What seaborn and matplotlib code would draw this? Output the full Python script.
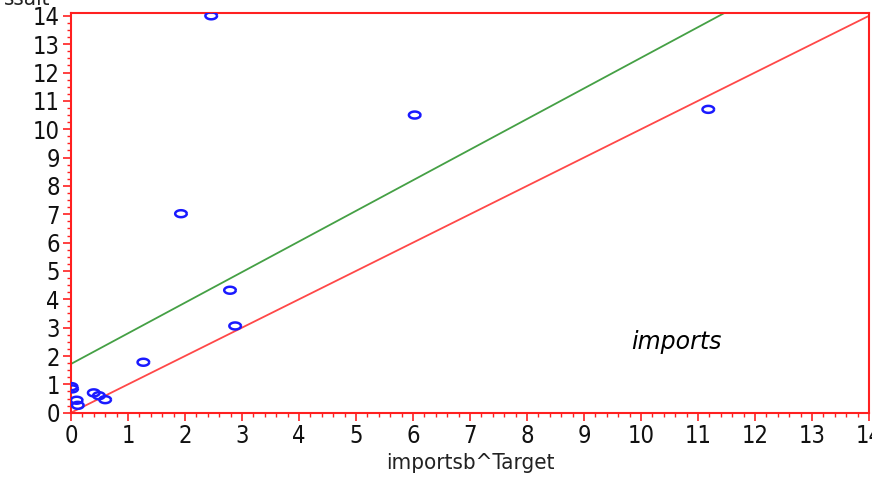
import numpy as np
import pandas as pd
import matplotlib
matplotlib.use("Agg")
import matplotlib.pyplot as plt
from matplotlib.path import Path
from matplotlib.ticker import MultipleLocator
from matplotlib import font_manager
import seaborn as sns

# ---- data ----
x_vals = [2.46, 1.93, 6.03, 11.18, 2.79, 2.88, 1.27, 0.01, 0.02, 0.10, 0.12, 0.40, 0.49, 0.60]
y_vals = [14.0, 7.02, 10.50, 10.70, 4.32, 3.06, 1.78, 0.92, 0.84, 0.44, 0.26, 0.70, 0.60, 0.46]
line_x = [0, 14]
red_intercept, red_slope = 0.0, 1.0
green_intercept, green_slope = 1.72, 1.08
x_ticks = list(range(0, 15))
y_ticks = list(range(0, 15))
x_label = "importsb^Target"
y_label = "ssalt"
annot = "imports"

sns.set_theme(style="white")
names = {f.name for f in font_manager.fontManager.ttflist}
cond = [f for f in font_manager.fontManager.ttflist if 'Condensed' in f.fname or 'Narrow' in f.fname]
print(sorted({(f.name, f.stretch) for f in cond}))
if 'Liberation Sans Narrow' in names:
    fam = ['Liberation Sans Narrow', 'DejaVu Sans']
else:
    fam = ['DejaVu Sans']
plt.rcParams['font.family'] = fam
plt.rcParams['font.stretch'] = 'condensed'

fig = plt.figure(figsize=(8.72, 4.79), dpi=100)
ax = fig.add_axes([0.0814, 0.1384, 0.9152, 0.8345])

lx = np.array(line_x, dtype=float)
df_lines = pd.DataFrame({
    "x": np.concatenate([lx, lx]),
    "y": np.concatenate([red_intercept + red_slope * lx, green_intercept + green_slope * lx]),
    "line": ["red"] * 2 + ["green"] * 2,
})
sns.lineplot(data=df_lines, x="x", y="y", hue="line",
             palette={"red": "#ff4848", "green": "#45a045"}, linewidth=1.3,
             legend=False, ax=ax)

t = np.linspace(0, 2 * np.pi, 40)
ell = Path(np.column_stack([np.cos(t), 0.6 * np.sin(t)]))
df_pts = pd.DataFrame({"x": x_vals, "y": y_vals})
sns.scatterplot(data=df_pts, x="x", y="y", marker=ell, s=70,
                facecolor="none", edgecolor="#1a1aff", linewidth=1.8, ax=ax, zorder=5)

ax.set_xlim(0, 14)
ax.set_ylim(0, 14.1)
ax.set_xticks(x_ticks)
ax.set_yticks(y_ticks)
ax.xaxis.set_minor_locator(MultipleLocator(0.2))
ax.yaxis.set_minor_locator(MultipleLocator(0.25))
ax.tick_params(axis="both", which="major", direction="out", length=6, width=1.2,
               color="#ff2020", labelsize=17, labelcolor="#111111", bottom=True, left=True, pad=2)
ax.tick_params(axis="both", which="minor", direction="out", length=3, width=1,
               color="#ff2020", bottom=True, left=True)
for s in ax.spines.values():
    s.set_color("#ff2020")
    s.set_linewidth(1.5)

ax.set_xlabel(x_label, fontsize=16, color="#222222", labelpad=4)
ax.set_ylabel("")
fig.text(0.005, 1.022, y_label, fontsize=16, color="#222222", ha="left", va="top")

ax.text(9.82, 2.5, annot, fontsize=17, fontstyle="italic", family="DejaVu Sans",
        fontstretch="normal", ha="left", va="center", color="black")

fig.savefig("out.png", dpi=100)
